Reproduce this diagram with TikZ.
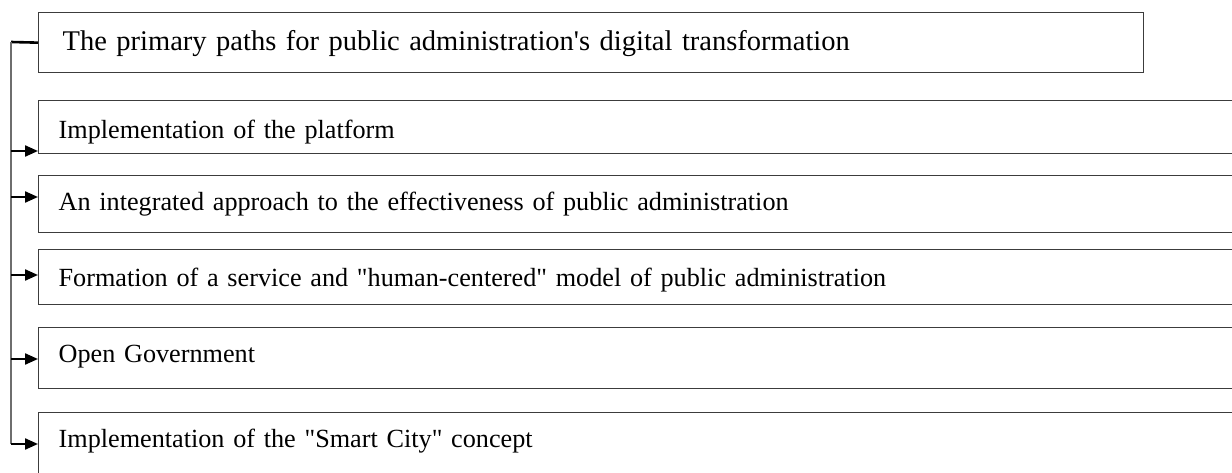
\documentclass[tikz,border=0pt]{standalone}
\usepackage{fontspec}
\setmainfont{Liberation Serif}
\usetikzlibrary{arrows.meta}
\usetikzlibrary{positioning}
\definecolor{boxline}{RGB}{60, 60, 60}
\definecolor{spinegray}{RGB}{110, 110, 110}

\begin{document}
\begin{tikzpicture}[x=1pt, y=1pt,
  head/.style={rectangle, draw=boxline, line width=1.3pt, anchor=north west,
    text width=1057pt, inner xsep=24pt, inner ysep=0pt, align=left,
    font=\fontsize{28.5}{32}\selectfont},
  path/.style={rectangle, draw=boxline, line width=1.3pt, anchor=north west,
    text width=1260pt, inner xsep=20pt, inner ysep=0pt, align=left,
    font=\fontsize{26.2}{30}\selectfont},
  arr/.style={-{Triangle[length=13pt, width=11pt]}, line width=2.2pt, color=black}
]
  \useasboundingbox (0,0) rectangle (1232,-473);

  \node[head, text height=38pt, text depth=22pt] (main) at (38,-12)
    {The primary paths for public administration\textquotesingle s digital transformation};

  \node[path, text height=38pt, text depth=15pt] (plat) at (38,-100)
    {Implementation of the platform};
  \node[path, text height=35pt, text depth=22pt] (effc) at (38,-175)
    {An integrated approach to the effectiveness of public administration};
  \node[path, text height=37pt, text depth=18pt] (serv) at (38,-249)
    {Formation of a service and \textquotedbl human-centered\textquotedbl{} model of public administration};
  \node[path, text height=35pt, text depth=26pt] (open) at (38,-327)
    {Open Government};
  \node[path, text height=35pt, text depth=40pt] (city) at (38,-412)
    {Implementation of the \textquotedbl Smart City\textquotedbl{} concept};

  % spine on the left
  \coordinate (top) at (11,-42);
  \coordinate (a1) at (11,-151);
  \coordinate (a2) at (11,-197);
  \coordinate (a3) at (11,-275);
  \coordinate (a4) at (11,-359);
  \coordinate (a5) at (11,-444);
  \draw[line width=2.6pt] (main.west) -- (top);
  \draw[spinegray, line width=1.6pt] (top) -- (a5);

  \draw[arr] (a1) -- (a1 -| plat.west);
  \draw[arr] (a2) -- (a2 -| effc.west);
  \draw[arr] (a3) -- (a3 -| serv.west);
  \draw[arr] (a4) -- (a4 -| open.west);
  \draw[arr] (a5) -- (a5 -| city.west);
\end{tikzpicture}
\end{document}
